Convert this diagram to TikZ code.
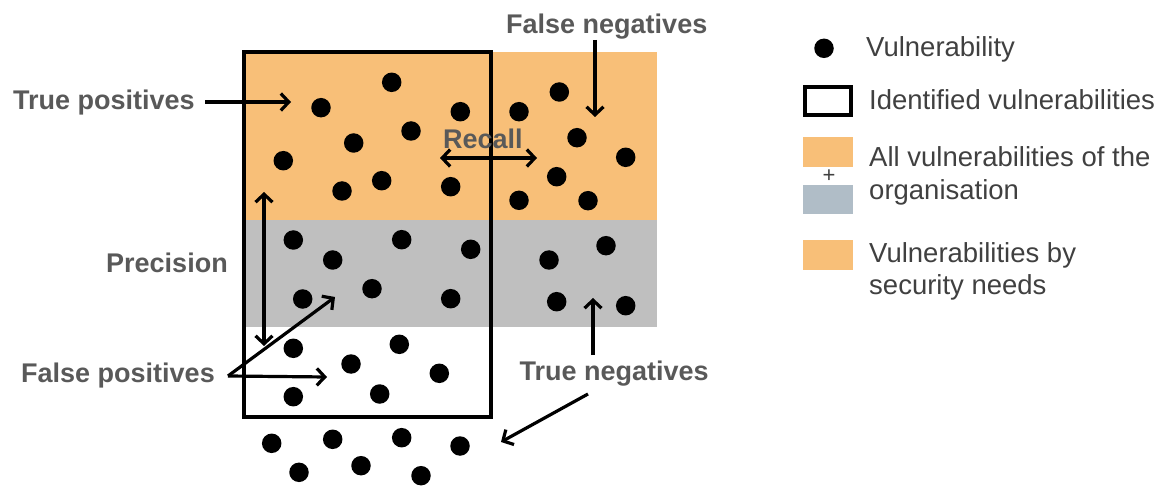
\documentclass[tikz,border=0pt]{standalone}
\usepackage{fontspec}
\setmainfont{Liberation Sans}
\usetikzlibrary{arrows.meta}
\definecolor{needs}{RGB}{248,191,120}
\definecolor{others}{RGB}{191,191,191}
\definecolor{legendgray}{RGB}{176,189,199}
\definecolor{labeltext}{RGB}{89,89,89}
\definecolor{legendtext}{RGB}{64,64,64}
\begin{document}
\begin{tikzpicture}[x=1pt,y=-1pt,
  dot/.style={circle,fill=black,inner sep=0pt,minimum size=19.5pt},
  lbl/.style={font=\fontsize{27}{32}\selectfont\bfseries,text=labeltext,inner sep=0pt,anchor=base west},
  legtext/.style={font=\fontsize{27.5}{33}\selectfont,text=legendtext,inner sep=0pt,anchor=base west},
  arr/.style={line width=3.2pt,-{Straight Barb[length=8pt,width=17pt]}},
  darr/.style={line width=3.2pt,{Straight Barb[length=8pt,width=17pt]}-{Straight Barb[length=8pt,width=17pt]}},
  swatch/.style={inner sep=0pt,minimum width=50pt,anchor=north west}]
\useasboundingbox (0,0) rectangle (1175,486);

% vulnerability areas
\fill[needs] (245,52) rectangle (657,220);
\fill[others] (245,220) rectangle (657,327);

% identified vulnerabilities
\draw[line width=3.6pt] (244,52) rectangle (491,417);

% vulnerabilities
\foreach \px/\py [count=\i] in {
  391.7/82.3, 321/107.7, 460.3/111.7, 411/131, 353.7/143, 283.3/160.7,
  381.7/180.7, 342/191, 450.7/186.7,
  519/111.7, 559.3/92, 577/137.7, 625.7/157.3, 556.7/176.7, 519/200.3, 588/200.7,
  293.3/240, 401.7/239.7, 470.7/249.3, 332.7/260, 372/288.7, 302.7/299, 450.7/298.7,
  549/260, 606/245.7, 556.7/301.7, 625.7/305.7,
  293.3/348.3, 399.3/344.3, 351/364, 439.3/373.3, 293.3/396.7, 379.7/394,
  271.7/443.3, 332.7/439.3, 401.7/437.7, 460/446, 299/472.3, 361/465.7, 421/475.7}
  \node[dot] (v\i) at (\px,\py) {};

% labels
\node[lbl] (tp) at (13,110) {True positives};
\node[lbl] (fn) at (506,33.3) {False negatives};
\node[lbl] (rc) at (443,149) {Recall};
\node[lbl] (pr) at (106,272.7) {Precision};
\node[lbl] (fp) at (21,382.7) {False positives};
\node[lbl] (tn) at (519.5,380.7) {True negatives};

% arrow ends
\coordinate (tpA) at (205,102);   \coordinate (tpB) at (291,102);
\coordinate (fnA) at (595,40);    \coordinate (fnB) at (595,117);
\coordinate (rcA) at (440,158);   \coordinate (rcB) at (537,158);
\coordinate (prA) at (264,192);   \coordinate (prB) at (264,346);
\coordinate (fpA) at (228,376);   \coordinate (fpB) at (327,377);
\coordinate (fpC) at (335,297);
\coordinate (tnA) at (593,355);   \coordinate (tnB) at (593,298);
\coordinate (tnC) at (588,394);   \coordinate (tnD) at (501,442);

\draw[arr] (tpA) -- (tpB);
\draw[arr] (fnA) -- (fnB);
\draw[darr] (rcA) -- (rcB);
\draw[darr] (prA) -- (prB);
\draw[arr] (fpA) -- (fpB);
\draw[arr] (fpA) -- (fpC);
\draw[arr] (tnA) -- (tnB);
\draw[arr] (tnC) -- (tnD);

% legend
\node[dot] (kdot) at (824,48.3) {};
\node[draw,line width=3.6pt,inner sep=0pt,minimum width=46.5pt,minimum height=28.5pt] (kbox) at (828,101) {};
\node[swatch,fill=needs,minimum height=29.5pt] (kall1) at (803,137.3) {};
\node[inner sep=0pt,font=\fontsize{22}{22}\selectfont,text=legendtext] (kplus) at (829,176.5) {+};
\node[swatch,fill=legendgray,minimum height=28.5pt] (kall2) at (803,185) {};
\node[swatch,fill=needs,minimum height=29.5pt] (ksec) at (803,240) {};

\node[legtext] (tdot) at (866,56.7) {Vulnerability};
\node[legtext] (tbox) at (869,110) {Identified vulnerabilities};
\node[legtext] (tall1) at (869,166.7) {All vulnerabilities of the};
\node[legtext] (tall2) at (869,200) {organisation};
\node[legtext] (tsec1) at (869,262.7) {Vulnerabilities by};
\node[legtext] (tsec2) at (869,294.5) {security needs};
\end{tikzpicture}
\end{document}
